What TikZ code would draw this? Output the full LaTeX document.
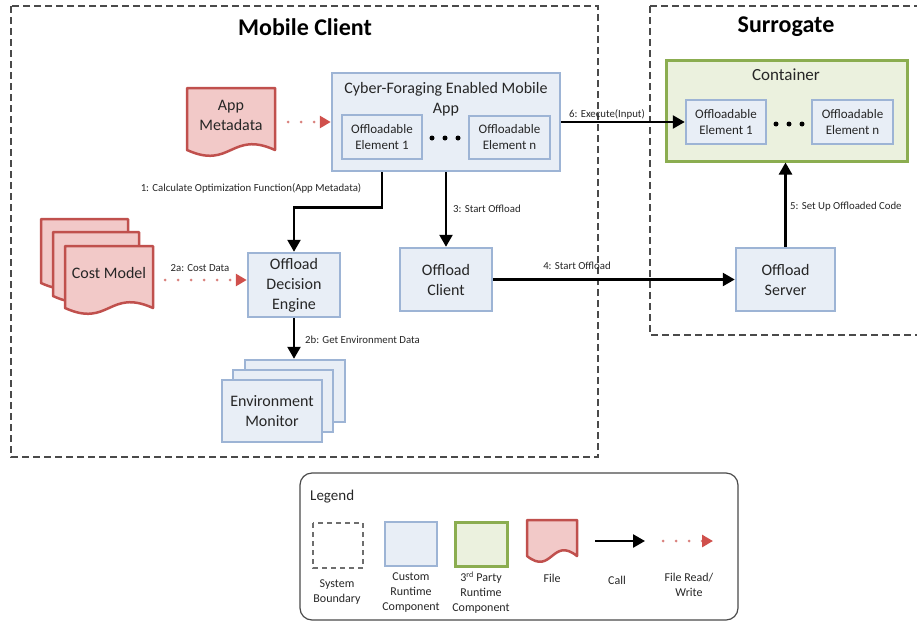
\documentclass[tikz,border=0pt]{standalone}
\usepackage{fontspec}
\setmainfont{Carlito}
\usetikzlibrary{arrows.meta,calc}

\definecolor{compf}{HTML}{E8EEF6}
\definecolor{compb}{HTML}{9DB4D5}
\definecolor{partf}{HTML}{EBF1DE}
\definecolor{partb}{HTML}{8BAD50}
\definecolor{filef}{HTML}{F2C9C8}
\definecolor{fileb}{HTML}{C0504D}
\definecolor{rwc}{HTML}{D9827E}
\definecolor{rwh}{HTML}{D0504C}
\definecolor{bnd}{HTML}{4A4A4A}
\definecolor{txt}{HTML}{262626}

\tikzset{
  comp/.style={draw=compb, fill=compf, line width=2.5pt, inner sep=0pt,
    align=center, text=txt, font=\fontsize{16}{20}\selectfont},
  elem/.style={comp, font=\fontsize{13}{16}\selectfont},
  party/.style={draw=partb, fill=partf, line width=3pt, inner sep=0pt},
  filedoc/.style={draw=fileb, fill=filef, line width=2.5pt, line join=round},
  filetext/.style={inner sep=0pt, align=center, text=txt, yshift=4pt,
    font=\fontsize{16}{20}\selectfont},
  call/.style={draw=black, line width=2.5pt,
    -{Triangle[length=12pt,width=13pt]}},
  rw/.style={draw=rwc, line width=3pt, line cap=round,
    dash pattern=on 0pt off 13pt,
    -{Triangle[length=11pt,width=12pt,color=rwh,fill=rwh]}},
  lbl/.style={inner sep=1pt, text=txt, font=\fontsize{10.8}{13}\selectfont},
  boundary/.style={draw=bnd, line width=1.2pt, dash pattern=on 7pt off 4pt},
  title/.style={inner sep=0pt, text=black, font=\fontsize{24}{28}\selectfont\bfseries},
  legtext/.style={inner sep=0pt, align=center, text=txt,
    font=\fontsize{12}{15}\selectfont},
  dot/.style={fill=black, circle, inner sep=0pt, minimum size=5pt},
}

% document shape with a wavy bottom: name, x1, y1, x2, y-bottom, text
\newcommand\filedocshape[6]{%
  \filldraw[filedoc] (#2,#3) -- (#4,#3) -- (#4,#5)
    .. controls ({(#2+#4)/2},{#5-20}) and ({(#2+#4)/2},{#5+20}) .. (#2,#5) -- cycle;
  \node[filetext, minimum width={#4-#2}, minimum height={#5-#3}] (#1)
    at ({(#2+#4)/2},{(#3+#5)/2}) {#6};
}

\begin{document}
\begin{tikzpicture}[x=1pt,y=-1pt]
\useasboundingbox (0,0) rectangle (917,624);

% system boundaries
\draw[boundary] (11,6) rectangle (598,457);
\draw[boundary] (650,6) -- (930,6) (650,6) -- (650,335) -- (930,335);
\node[title] (mctitle) at (305,27) {Mobile Client};
\node[title] (sgtitle) at (786,27) {Surrogate};

% mobile app with its offloadable elements
\node[comp, minimum width=228, minimum height=98] (app) at (446,122) {};
\node[inner sep=0pt, align=center, text=txt, font=\fontsize{16}{20}\selectfont]
  (apptitle) at (446,99) {Cyber-Foraging Enabled Mobile\\App};
\node[elem, minimum width=80, minimum height=44] (ae1) at (382,137) {Offloadable\\Element 1};
\node[elem, minimum width=81, minimum height=43] (aen) at (509.5,137.5) {Offloadable\\Element n};
\node[dot] (ad1) at (432,138) {};
\node[dot] (ad2) at (445,138) {};
\node[dot] (ad3) at (458,138) {};

% container on the surrogate
\node[party, minimum width=241, minimum height=101] (cont) at (786.5,110.5) {};
\node[inner sep=0pt, text=txt, font=\fontsize{17}{20}\selectfont] (conttitle) at (786,75) {Container};
\node[elem, minimum width=80, minimum height=44] (ce1) at (726,122) {Offloadable\\Element 1};
\node[elem, minimum width=81, minimum height=44] (cen) at (852.5,122) {Offloadable\\Element n};
\node[dot] (cd1) at (776,124) {};
\node[dot] (cd2) at (789,124) {};
\node[dot] (cd3) at (802,124) {};

% files
\filedocshape{meta}{187}{88}{275}{150}{App\\Metadata}
\filedocshape{costb}{41}{219}{128}{283}{}
\filedocshape{costm}{53}{232}{139}{296}{}
\filedocshape{cost}{65}{246}{153}{308}{Cost Model}

% runtime components
\node[comp, minimum width=92, minimum height=64] (ode) at (294,285) {Offload\\Decision\\Engine};
\node[comp, minimum width=100, minimum height=62] (envb) at (295,391) {};
\node[comp, minimum width=100, minimum height=62] (envm) at (283,401) {};
\node[comp, minimum width=100, minimum height=62] (env) at (272,411) {Environment\\Monitor};
\node[comp, minimum width=92, minimum height=63] (oclient) at (446,279.5) {Offload\\Client};
\node[comp, minimum width=99, minimum height=63] (oserver) at (785.5,279.5) {Offload\\Server};

% file reads
\draw[rw, shorten <=13pt] (meta.east |- app.west) -- (app.west);
\draw[rw, shorten <=12pt] ([yshift=5pt]cost.east |- ode.west) -- ([yshift=5pt]ode.west);

% calls
\draw[call] (app.south -| ae1) -- ++(0,35) -| (ode.north);
\draw[call] (app.south) -- (oclient.north);
\draw[call] (ode.south) -- (ode.south |- envb.north);
\draw[call] (oclient.east) -- (oserver.west);
\draw[call] (oserver.north) -- (oserver.north |- cont.south);
\draw[call] (app.east) -- (ce1.west);

% call labels
\node[lbl] (l1) at (251,188) {1: Calculate Optimization Function(App Metadata)};
\node[lbl] (l2a) at (200,268) {2a: Cost Data};
\node[lbl, anchor=west] (l2b) at (304,340) {2b: Get Environment Data};
\node[lbl, anchor=west] (l3) at (452,209) {3: Start Offload};
\node[lbl] (l4) at (577,266) {4: Start Offload};
\node[lbl, anchor=west] (l5) at (789,207) {5: Set Up Offloaded Code};
\node[lbl] (l6) at (607,114) {6: Execute(Input)};

% legend
\draw[draw=bnd, line width=1.2pt, rounded corners=12pt] (300,473) rectangle (738,620);
\node[inner sep=0pt, anchor=west, text=txt, font=\fontsize{15}{18}\selectfont] (legtitle) at (310,497) {Legend};
\draw[draw=bnd!80, line width=1.5pt, dash pattern=on 5pt off 4pt] (313,523) rectangle (363,568);
\node[comp, minimum width=52, minimum height=44] (lgcomp) at (411,544) {};
\node[party, minimum width=52, minimum height=44] (lgparty) at (481,544) {};
\filedocshape{lgfile}{527}{520}{577}{556}{}
\coordinate (lgca) at (595,541);
\coordinate (lgcb) at (645,541);
\draw[call] (lgca) -- (lgcb);
\coordinate (lgra) at (663,541);
\coordinate (lgrb) at (713,541);
\draw[rw] (lgra) -- (lgrb);
\node[legtext] (lt1) at (337,592) {System\\Boundary};
\node[legtext] (lt2) at (411,593) {Custom\\Runtime\\Component};
\node[legtext] (lt3) at (481,593) {3\textsuperscript{rd} Party\\Runtime\\Component};
\node[legtext] (lt4) at (552,578) {File};
\node[legtext] (lt5) at (617,580) {Call};
\node[legtext] (lt6) at (689,585) {File Read/\\Write};
\end{tikzpicture}
\end{document}
